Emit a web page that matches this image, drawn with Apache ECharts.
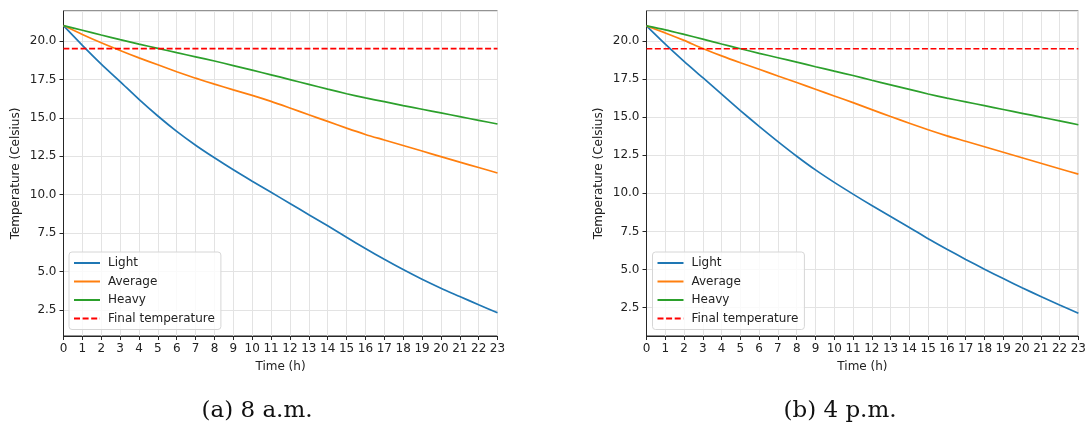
<!DOCTYPE html>
<html>
<head>
<meta charset="utf-8">
<script src="https://cdn.jsdelivr.net/npm/echarts@6/dist/echarts.min.js"></script>
<style>
html,body{margin:0;padding:0;background:#fff;}
#chart{width:1089px;height:425px;}
</style>
</head>
<body>
<div id="chart"></div>
<script>
// ---- data ----
const hours = [0,1,2,3,4,5,6,7,8,9,10,11,12,13,14,15,16,17,18,19,20,21,22,23];
const seriesNames = ['Light','Average','Heavy','Final temperature'];
const finalTemp = 19.5;
const captions = ['(a) 8 a.m.', '(b) 4 p.m.'];
const yTickLabels = [2.5, 5.0, 7.5, 10.0, 12.5, 15.0, 17.5, 20.0];

// (a) 8 a.m.
const lightA   = [21.0,19.72,18.5,17.36,16.2,15.12,14.12,13.22,12.4,11.62,10.88,10.16,9.43,8.7,7.98,7.23,6.5,5.8,5.13,4.5,3.92,3.38,2.84,2.32];
const averageA = [21.0,20.42,19.88,19.38,18.9,18.45,18.0,17.58,17.19,16.82,16.46,16.07,15.64,15.2,14.77,14.33,13.92,13.56,13.2,12.84,12.48,12.12,11.77,11.41];
const heavyA   = [21.0,20.7,20.39,20.09,19.8,19.52,19.24,18.97,18.7,18.4,18.1,17.8,17.49,17.18,16.87,16.57,16.3,16.05,15.8,15.56,15.32,15.08,14.84,14.6];

// (b) 4 p.m.
const lightB   = [21.0,19.8,18.67,17.6,16.52,15.44,14.4,13.4,12.44,11.54,10.72,9.95,9.2,8.48,7.76,7.02,6.33,5.66,5.02,4.4,3.8,3.23,2.67,2.13];
const averageB = [21.0,20.54,20.05,19.52,19.03,18.58,18.15,17.71,17.28,16.84,16.4,15.96,15.5,15.05,14.61,14.18,13.78,13.42,13.06,12.7,12.34,11.98,11.62,11.26];
const heavyB   = [21.0,20.74,20.44,20.13,19.81,19.5,19.2,18.91,18.62,18.32,18.03,17.74,17.43,17.13,16.83,16.53,16.26,16.01,15.76,15.51,15.26,15.01,14.76,14.51];

const yRangeA = [0.81, 21.95];
const yRangeB = [0.63, 21.98];

// ---- chart ----
const colors = ['#1f77b4','#ff7f0e','#2ca02c','#ff0000'];
const pair = vals => hours.map((h,i)=>[h, vals[i]]);
const flat = () => [[hours[0], finalTemp],[hours[hours.length-1], finalTemp]];

const FONT = 'DejaVu Sans';
const FS = 12;
const gridW = 434;
const grids = [
  {left: 63.5, top: 11, width: gridW, height: 325, show:true, borderColor:'#262626', borderWidth:1, backgroundColor:'transparent'},
  {left: 646.5, top: 11, width: gridW, height: 325, show:true, borderColor:'#262626', borderWidth:1, backgroundColor:'transparent'}
];

function xAxis(gi){
  return {
    gridIndex: gi, type:'value', min: hours[0], max: hours[hours.length-1], interval: 1,
    name: 'Time (h)', nameLocation:'middle', nameGap: 25,
    nameTextStyle:{fontFamily:FONT, fontSize:FS, color:'#222'},
    axisLine:{show:true, onZero:false, lineStyle:{color:'#262626', width:1}},
    axisTick:{show:true, length:4, lineStyle:{color:'#262626'}},
    axisLabel:{fontFamily:FONT, fontSize:FS, color:'#222', margin:7},
    splitLine:{show:true, lineStyle:{color:'#e3e3e3', width:1}}
  };
}
function yAxis(gi, rng){
  return {
    gridIndex: gi, type:'value', min: rng[0], max: rng[1],
    minInterval: 2.5, maxInterval: 2.5,
    name: 'Temperature (Celsius)', nameLocation:'middle', nameGap: 42,
    nameTextStyle:{fontFamily:FONT, fontSize:FS, color:'#222'},
    axisLine:{show:true, onZero:false, lineStyle:{color:'#262626', width:1}},
    axisTick:{show:true, length:4, lineStyle:{color:'#262626'}},
    axisLabel:{fontFamily:FONT, fontSize:FS, color:'#222', margin:7, showMinLabel:false, showMaxLabel:false,
      formatter: v => { const t = yTickLabels.find(x => Math.abs(x - v) < 1e-6); return t === undefined ? '' : t.toFixed(1); }},
    splitLine:{show:true, lineStyle:{color:'#e3e3e3', width:1}}
  };
}

function lineSeries(name, data, gi, color, dashed){
  return {
    name, type:'line', xAxisIndex:gi, yAxisIndex:gi, data, showSymbol:false, symbol:'none',
    smooth:0.25, animation:false, silent:true, z: dashed ? 3 : 2,
    lineStyle:{color, width: dashed?1.6:1.7, type: dashed ? [6,2.6] : 'solid'},
    itemStyle:{color}
  };
}

const series = [
  lineSeries('Light', pair(lightA), 0, colors[0]),
  lineSeries('Average', pair(averageA), 0, colors[1]),
  lineSeries('Heavy', pair(heavyA), 0, colors[2]),
  lineSeries('Final temperature', flat(), 0, colors[3], true),
  lineSeries('Light', pair(lightB), 1, colors[0]),
  lineSeries('Average', pair(averageB), 1, colors[1]),
  lineSeries('Heavy', pair(heavyB), 1, colors[2]),
  lineSeries('Final temperature', flat(), 1, colors[3], true)
];

function legend(left){
  return {
    data: seriesNames, orient:'vertical', left: left, top: 252,
    itemWidth: 26, itemHeight: 12, itemGap: 6.5,
    padding:[5, 6, 5, 4],
    backgroundColor:'rgba(255,255,255,0.8)', borderColor:'#d6d6d6', borderWidth:1, borderRadius:3,
    textStyle:{fontFamily:FONT, fontSize:FS, color:'#222', padding:[0,0,0,3]},
    itemStyle:{opacity:0},
    selectedMode:false
  };
}

const chart = echarts.init(document.getElementById('chart'), null, {renderer:'canvas'});
chart.setOption({
  animation:false,
  color: colors,
  grid: grids,
  xAxis: [xAxis(0), xAxis(1)],
  yAxis: [yAxis(0, yRangeA), yAxis(1, yRangeB)],
  legend: [legend(69), legend(652.5)],
  series,
  graphic: [
    {type:'text', x: 257, y: 411, style:{text: captions[0], font:'23px "DejaVu Serif"', fill:'#111', textAlign:'center', textVerticalAlign:'middle'}},
    {type:'text', x: 840, y: 411, style:{text: captions[1], font:'23px "DejaVu Serif"', fill:'#111', textAlign:'center', textVerticalAlign:'middle'}}
  ]
});
</script>
</body>
</html>
